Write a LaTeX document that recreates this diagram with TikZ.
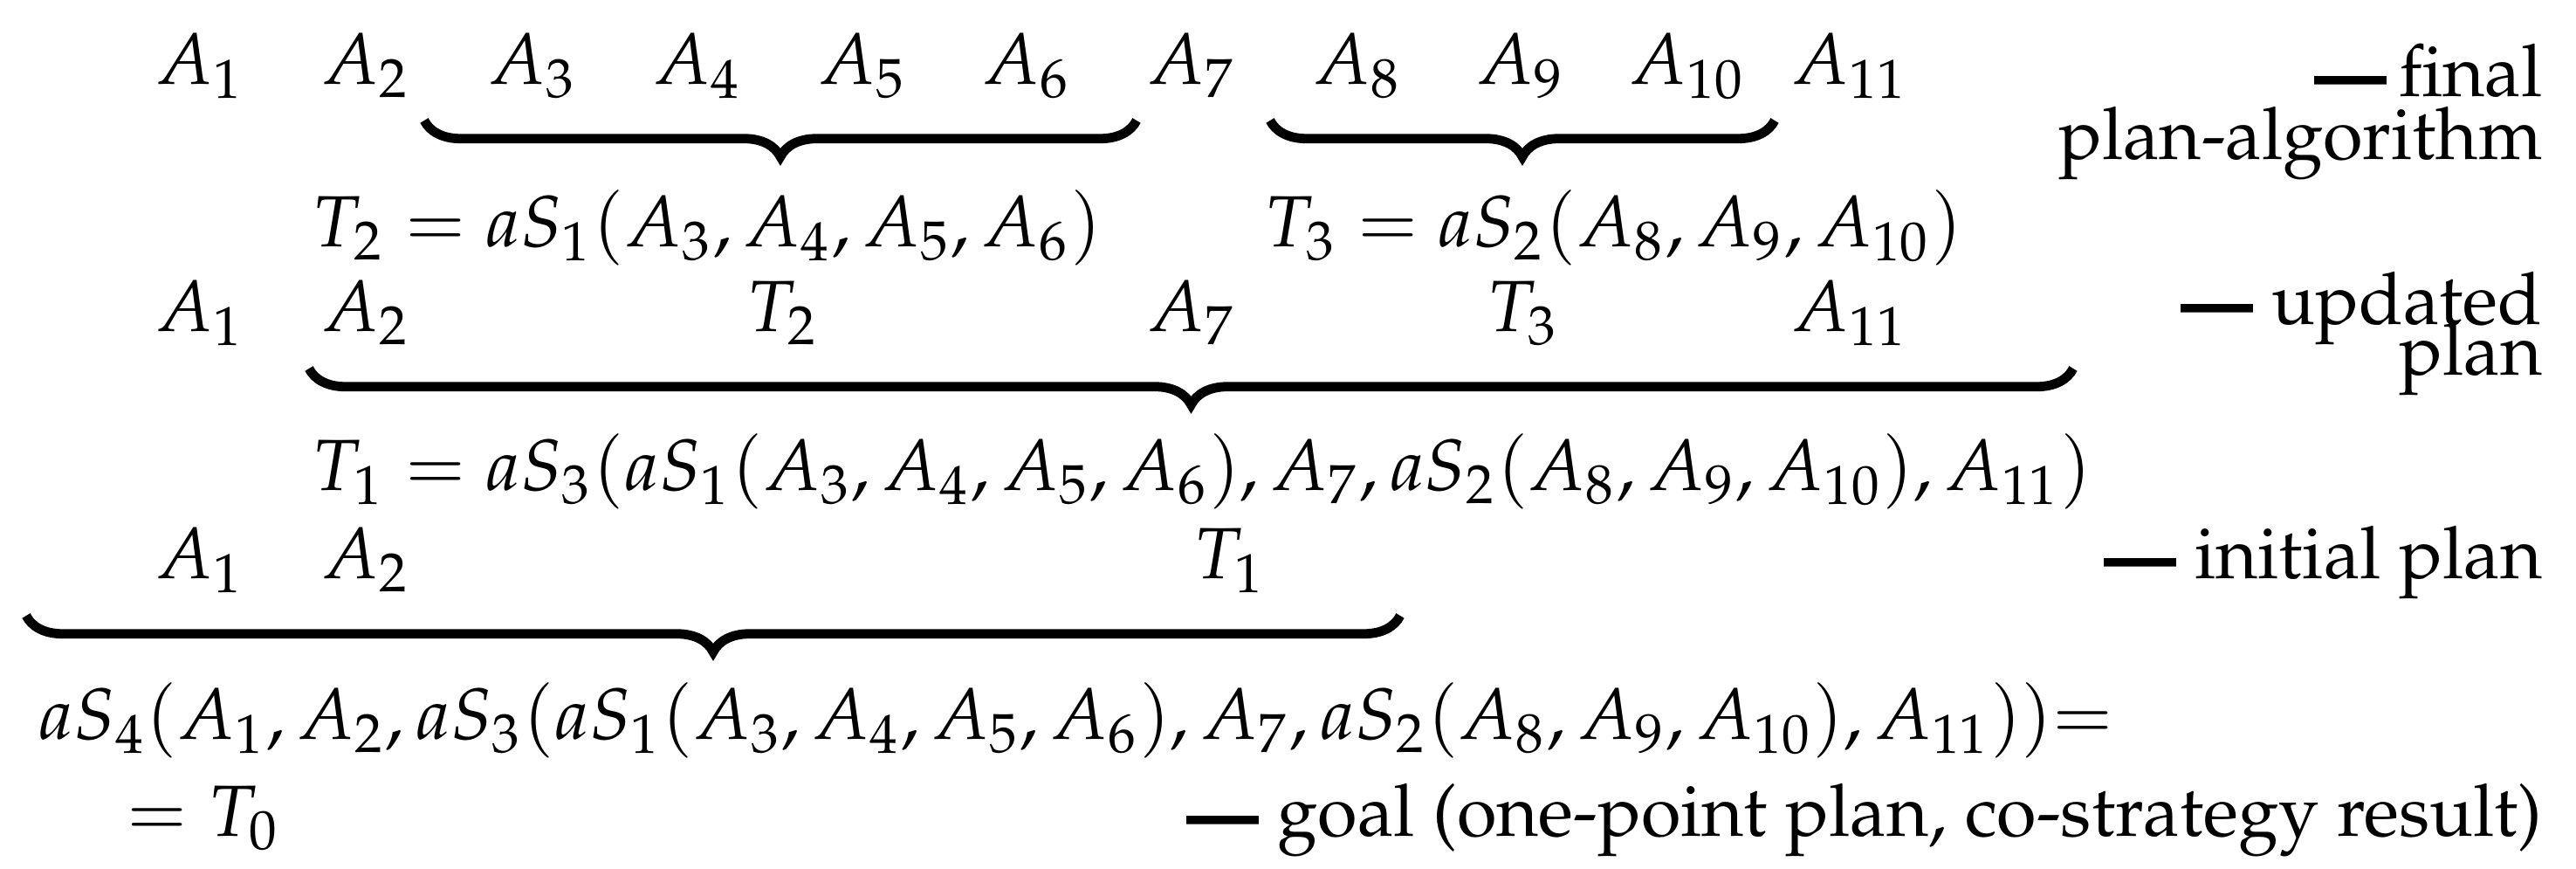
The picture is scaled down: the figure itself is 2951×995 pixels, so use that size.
\documentclass[tikz,border=0pt]{standalone}
\usepackage[T1]{fontenc}
\usepackage{mathpazo}
\usepackage{graphicx}
\usetikzlibrary{decorations.pathreplacing}
\newcommand{\thickdash}{\raisebox{-0.27em}{\scalebox{1}[2]{---}}}
\begin{document}
\begin{tikzpicture}[x=0.120482pt, y=-0.120482pt,
  item/.style={anchor=base, inner sep=0pt},
  lw/.style={anchor=base west, inner sep=0pt},
  le/.style={anchor=base east, inner sep=0pt},
  ubrace/.style={decorate, decoration={brace, mirror, amplitude=5pt}, line width=1.3pt}]
\useasboundingbox (0,0) rectangle (2951,995);
% row 1 : final plan-algorithm
\node[item] (a1) at (229.5,97) {$A_1$};
\node[item] (a2) at (419.5,97) {$A_2$};
\node[item] (a3) at (610.5,97) {$A_3$};
\node[item] (a4) at (799,97) {$A_4$};
\node[item] (a5) at (988,97) {$A_5$};
\node[item] (a6) at (1176,97) {$A_6$};
\node[item] (a7) at (1365,97) {$A_7$};
\node[item] (a8) at (1555,97) {$A_8$};
\node[item] (a9) at (1742,97) {$A_9$};
\node[item] (a10) at (1933,97) {$A_{10}$};
\node[item] (a11) at (2119,97) {$A_{11}$};
\node[le] (lfinal) at (2914,111) {\thickdash\,final};
\node[le] (lplanalg) at (2914,183) {plan-algorithm};
\coordinate (br1l) at (486,138);
\coordinate (br1r) at (1302,138);
\coordinate (br2l) at (1455,138);
\coordinate (br2r) at (2033,138);
\draw[ubrace] (br1l) -- (br1r);
\draw[ubrace] (br2l) -- (br2r);
% row 2
\node[lw] (t2def) at (356,283) {$T_2=aS_1(A_3,A_4,A_5,A_6)$};
\node[lw] (t3def) at (1447,283) {$T_3=aS_2(A_8,A_9,A_{10})$};
% row 3 : updated plan
\node[item] (b1) at (229.5,380) {$A_1$};
\node[item] (b2) at (419.5,380) {$A_2$};
\node[item] (bt2) at (897,380) {$T_2$};
\node[item] (b7) at (1365,380) {$A_7$};
\node[item] (bt3) at (1745,380) {$T_3$};
\node[item] (b11) at (2119,380) {$A_{11}$};
\node[le] (lupd) at (2914,372) {\thickdash\ updated};
\node[le] (lplan) at (2914,430) {plan};
\coordinate (br3l) at (354,422);
\coordinate (br3r) at (2375,422);
\draw[ubrace] (br3l) -- (br3r);
% row 4
\node[lw] (t1def) at (356,562) {$T_1=aS_3(aS_1(A_3,A_4,A_5,A_6),A_7,aS_2(A_8,A_9,A_{10}),A_{11})$};
% row 5 : initial plan
\node[item] (c1) at (229.5,663) {$A_1$};
\node[item] (c2) at (419.5,663) {$A_2$};
\node[item] (ct1) at (1409,663) {$T_1$};
\node[le] (linit) at (2914,663) {\thickdash\ initial plan};
\coordinate (br4l) at (30,705);
\coordinate (br4r) at (1604,705);
\draw[ubrace] (br4l) -- (br4r);
% rows 6-7 : goal
\node[lw] (goal) at (43,847) {$aS_4(A_1,A_2,aS_3(aS_1(A_3,A_4,A_5,A_6),A_7,aS_2(A_8,A_9,A_{10}),A_{11}))\mathord{=}$};
\node[lw] (t0) at (144,958) {$=T_0$};
\node[le] (lgoal) at (2914,958) {\thickdash\ goal (one-point plan, co-strategy result)};
\end{tikzpicture}
\end{document}
